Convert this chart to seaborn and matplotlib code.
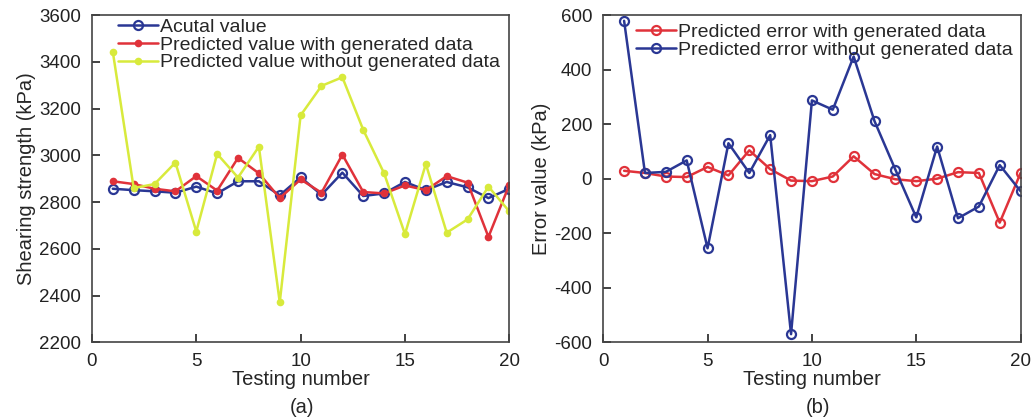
import numpy as np
import pandas as pd
import seaborn as sns
import matplotlib.pyplot as plt

# Testing numbers
tests = list(range(1, 21))

# (a) shearing strength, kPa
actual = [2857, 2851, 2846, 2840, 2866, 2837, 2889, 2889, 2829, 2906,
          2831, 2926, 2826, 2837, 2886, 2851, 2886, 2863, 2817, 2857]
pred_with = [2889, 2877, 2857, 2846, 2911, 2849, 2989, 2923, 2817, 2897,
             2840, 3003, 2843, 2837, 2871, 2851, 2911, 2883, 2651, 2874]
pred_without = [3443, 2860, 2877, 2969, 2674, 3006, 2905, 3037, 2371, 3171,
                3297, 3334, 3109, 2923, 2663, 2963, 2669, 2726, 2866, 2760]

# (b) error values, kPa
err_with = [29, 21, 8, 6, 43, 12, 104, 35, -7, -9,
            8, 82, 17, -2, -9, 0, 24, 21, -161, 21]
err_without = [579, 21, 25, 67, -255, 130, 21, 160, -570, 287,
               253, 448, 211, 33, -142, 118, -145, -102, 50, -46]

sns.set_theme(style='ticks')
plt.rcParams['font.family'] = ['Liberation Sans', 'DejaVu Sans']
plt.rcParams['xtick.direction'] = 'in'
plt.rcParams['ytick.direction'] = 'in'
plt.rcParams['axes.unicode_minus'] = False

BLUE = '#2a3794'
RED = '#e0323a'
YELLOW = '#d8ea3c'
FS = 14.5
TFS = 13.5
LFS = 14

fig, ax = plt.subplots(1, 2, figsize=(10.33, 4.18), dpi=100)
fig.subplots_adjust(left=0.089, right=0.988, top=0.964, bottom=0.181, wspace=0.225)

# Left: strength
sns.lineplot(x=tests, y=actual, ax=ax[0], color=BLUE, lw=1.8, marker='o',
             markersize=6.5, markerfacecolor='none', markeredgecolor=BLUE,
             markeredgewidth=1.6, label='Acutal value')
sns.lineplot(x=tests, y=pred_with, ax=ax[0], color=RED, lw=1.8, marker='o',
             markersize=5.5, markeredgewidth=0, label='Predicted value with generated data')
sns.lineplot(x=tests, y=pred_without, ax=ax[0], color=YELLOW, lw=1.8, marker='o',
             markersize=5.5, markeredgewidth=0, label='Predicted value without generated data')
ax[0].set_xlim(0, 20)
ax[0].set_ylim(2200, 3600)
ax[0].set_xticks([0, 5, 10, 15, 20])
ax[0].set_yticks(np.arange(2200, 3601, 200))
ax[0].set_xlabel('Testing number', fontsize=FS, labelpad=0)
ax[0].set_ylabel('Shearing strength (kPa)', fontsize=FS, labelpad=2)

# Right: errors
sns.lineplot(x=tests, y=err_with, ax=ax[1], color=RED, lw=1.8, marker='o',
             markersize=6.5, markerfacecolor='none', markeredgecolor=RED,
             markeredgewidth=1.6, label='Predicted error with generated data')
sns.lineplot(x=tests, y=err_without, ax=ax[1], color=BLUE, lw=1.8, marker='o',
             markersize=6.5, markerfacecolor='none', markeredgecolor=BLUE,
             markeredgewidth=1.6, label='Predicted error without generated data')
ax[1].set_xlim(0, 20)
ax[1].set_ylim(-600, 600)
ax[1].set_xticks([0, 5, 10, 15, 20])
ax[1].set_yticks(np.arange(-600, 601, 200))
ax[1].set_xlabel('Testing number', fontsize=FS, labelpad=0)
ax[1].set_ylabel('Error value (kPa)', fontsize=FS, labelpad=2)

for a in ax:
    a.tick_params(labelsize=TFS, length=6, width=1.2, colors='#222222', pad=8)
    for s in a.spines.values():
        s.set_visible(True)
        s.set_linewidth(1.2)
        s.set_color('#444444')

ax[0].legend(loc='upper left', bbox_to_anchor=(0.035, 1.025), frameon=False,
             fontsize=LFS, handlelength=2.05, handletextpad=0.12, labelspacing=0.0,
             borderaxespad=0.2)
ax[1].legend(loc='upper left', bbox_to_anchor=(0.05, 1.01), frameon=False,
             fontsize=LFS, handlelength=2.05, handletextpad=0.12, labelspacing=0.0,
             borderaxespad=0.2)

fig.text(0.292, 0.024, '(a)', ha='center', va='center', fontsize=FS)
fig.text(0.792, 0.024, '(b)', ha='center', va='center', fontsize=FS)

fig.savefig('out.png', dpi=100)
